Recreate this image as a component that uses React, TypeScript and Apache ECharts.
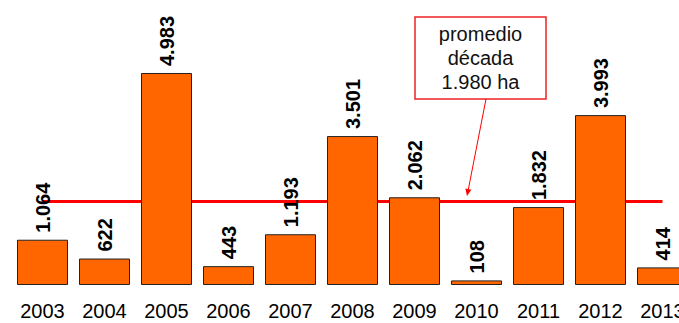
import React, { useEffect, useRef } from "react";
import * as echarts from "echarts";

const years = ["2003", "2004", "2005", "2006", "2007", "2008", "2009", "2010", "2011", "2012", "2013"];
const hectares = [1064, 622, 4983, 443, 1193, 3501, 2062, 108, 1832, 3993, 414];
const average = 1980;
const noteLines = ["promedio", "década", "1.980 ha"];

const fmt = (v: number) => {
  const s = String(Math.round(v));
  return s.replace(/\B(?=(\d{3})+(?!\d))/g, ".");
};

export default function App() {
  const ref = useRef<HTMLDivElement>(null);
  useEffect(() => {
    if (!ref.current) return;
    const chart = echarts.init(ref.current, null, { renderer: "svg" });
    chart.setOption({
      animation: false,
      backgroundColor: "#ffffff",
      textStyle: { fontFamily: "Liberation Sans, Arial, sans-serif" },
      grid: { left: 11.5, width: 682, top: 29.73, bottom: 38, containLabel: false, outerBoundsMode: "none" },
      xAxis: {
        type: "category",
        data: years,
        axisLine: { show: false },
        axisTick: { show: false },
        axisLabel: { color: "#000", fontSize: 20, margin: 16, fontFamily: "Liberation Sans, Arial, sans-serif" },
      },
      yAxis: {
        type: "value",
        min: 0,
        max: 6000,
        show: false,
        splitLine: { show: false },
      },
      series: [
        {
          type: "bar",
          data: hectares,
          barWidth: 51,
          itemStyle: { color: "#FF6600", borderColor: "#222", borderWidth: 1 },
          label: {
            show: true,
            position: "top",
            rotate: 90,
            align: "left",
            verticalAlign: "middle",
            distance: 7,
            fontSize: 20,
            fontWeight: "bold",
            color: "#000",
            fontFamily: "Liberation Sans, Arial, sans-serif",
            formatter: (p: any) => fmt(p.value),
          },
          markLine: {
            silent: true,
            symbol: "none",
            z: 1,
            label: { show: false },
            lineStyle: { color: "#FF0000", width: 3, type: "solid" },
            data: [[{ coord: [0, average] }, { coord: [10, average] }]],
          },
        },
      ],
      graphic: [
        {
          type: "rect",
          shape: { x: 415, y: 17, width: 131, height: 82 },
          style: { fill: "#ffffff", stroke: "#EE2222", lineWidth: 1.5 },
          z: 10,
        },
        {
          type: "text",
          x: 480.5,
          y: 58,
          style: {
            text: noteLines.join("\n"),
            fontSize: 20,
            lineHeight: 24,
            fill: "#111",
            align: "center",
            verticalAlign: "middle",
            fontFamily: "Liberation Sans, Arial, sans-serif",
          },
          z: 11,
        },
        {
          type: "line",
          shape: { x1: 486, y1: 99, x2: 468.3, y2: 189.5 },
          style: { stroke: "#FF0000", lineWidth: 1 },
          z: 10,
        },
        {
          type: "polygon",
          shape: { points: [[467, 196], [471.3, 189.7], [465.4, 188.5]] },
          style: { fill: "#FF0000" },
          z: 10,
        },
      ],
    });
    return () => chart.dispose();
  }, []);
  return (
    <div
      ref={ref}
      style={{ position: "fixed", left: 0, top: 0, width: 679, height: 323 }}
    />
  );
}
